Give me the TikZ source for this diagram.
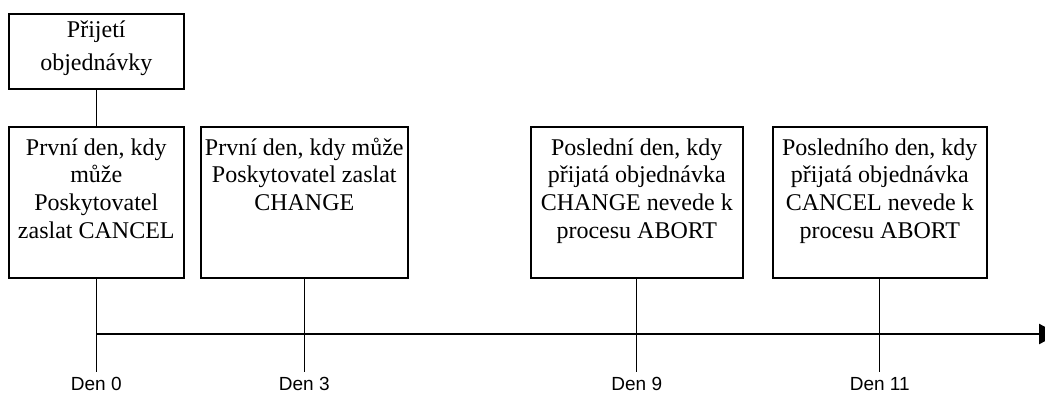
\documentclass[tikz,border=0pt]{standalone}
\usepackage{fontspec}
\setmainfont{Liberation Serif}
\newfontfamily\labelfont{Liberation Sans}
\usetikzlibrary{arrows.meta}

\tikzset{
  box/.style={draw=black, line width=1.6pt, fill=white, inner sep=0pt,
    anchor=north west, minimum height=151pt},
  boxtext/.style={anchor=north, inner sep=0pt, align=center,
    font=\fontsize{24}{27.7}\selectfont},
  tick/.style={draw=black, line width=1.3pt},
  axis/.style={draw=black, line width=2.2pt,
    -{Triangle[length=20pt, width=20pt]}},
  daylabel/.style={anchor=base, inner sep=0pt,
    font=\labelfont\fontsize{19}{22}\selectfont},
}

\begin{document}
\begin{tikzpicture}[x=1pt, y=-1pt]
  \useasboundingbox[fill=white] (0,0) rectangle (1045,392);
  \clip (0,0) rectangle (1045,392);

  % order received
  \node[box, minimum width=175pt, minimum height=75pt] (recv) at (8,13) {};
  \node[boxtext, font=\fontsize{24}{33}\selectfont] (recvtext) at ([yshift=-1.4pt]recv.north)
    {\strut Přijetí\\objednávky};

  % milestone boxes
  \node[box, minimum width=175pt] (d0) at (8,126) {};
  \node[box, minimum width=207pt] (d3) at (200,126) {};
  \node[box, minimum width=212pt] (d9) at (530,126) {};
  \node[box, minimum width=214pt] (d11) at (772,126) {};

  \node[boxtext] (d0text) at ([yshift=-9.6pt]d0.north)
    {\strut První den, kdy\\může\\Poskytovatel\\zaslat CANCEL};
  \node[boxtext] (d3text) at ([yshift=-9.6pt]d3.north)
    {\strut První den, kdy může\\Poskytovatel zaslat\\CHANGE};
  \node[boxtext] (d9text) at ([yshift=-9.6pt]d9.north)
    {\strut Poslední den, kdy\\přijatá objednávka\\CHANGE nevede k\\procesu ABORT};
  \node[boxtext] (d11text) at ([yshift=-9.6pt]d11.north)
    {\strut Posledního den, kdy\\přijatá objednávka\\CANCEL nevede k\\procesu ABORT};

  % tick ends and axis ends
  \coordinate (t0) at (d0.south |- 0,372);
  \coordinate (t3) at (d3.south |- 0,372);
  \coordinate (t9) at (d9.south |- 0,372);
  \coordinate (t11) at (d11.south |- 0,372);
  \coordinate (axstart) at (d0.south |- 0,334);
  \coordinate (axend) at (1059,334);

  % connectors
  \draw[tick] (recv.south) -- (d0.north);
  \draw[tick] (d0.south) -- (t0);
  \draw[tick] (d3.south) -- (t3);
  \draw[tick] (d9.south) -- (t9);
  \draw[tick] (d11.south) -- (t11);

  % time axis
  \draw[axis] (axstart) -- (axend);

  % day labels
  \node[daylabel] (l0) at ([yshift=-18pt]t0) {Den 0};
  \node[daylabel] (l3) at ([yshift=-18pt]t3) {Den 3};
  \node[daylabel] (l9) at ([yshift=-18pt]t9) {Den 9};
  \node[daylabel] (l11) at ([yshift=-18pt]t11) {Den 11};
\end{tikzpicture}
\end{document}
